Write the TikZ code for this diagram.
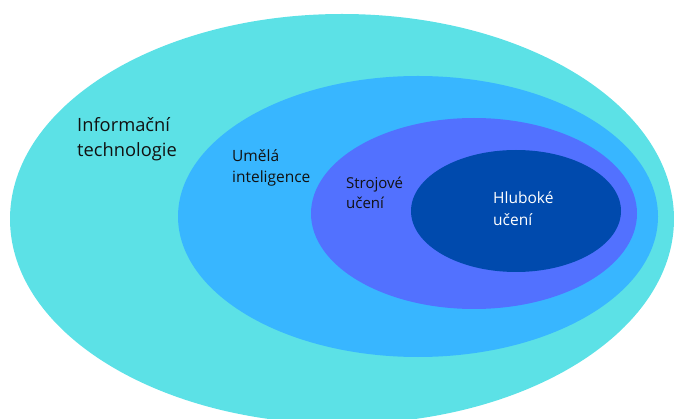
\documentclass[tikz,border=0pt]{standalone}
\usepackage{fontspec}
\setmainfont{Open Sans}
\usetikzlibrary{shapes.geometric}
\definecolor{itcyan}{HTML}{5CE1E6}
\definecolor{aiblue}{HTML}{38B6FF}
\definecolor{mlviolet}{HTML}{5271FF}
\definecolor{dlnavy}{HTML}{004AAD}
\definecolor{labelink}{HTML}{111111}
\begin{document}
\begin{tikzpicture}[x=1pt,y=-1pt,
  area/.style={ellipse,draw=none,inner sep=0pt},
  lbl/.style={anchor=west,align=left,inner sep=0pt,text=labelink}]
\useasboundingbox (0,0) rectangle (674,419);
\clip (0,0) rectangle (674,419);
% nested sets, outermost first
\node[area,fill=itcyan,minimum width=664pt,minimum height=410pt] (it) at (342,219) {};
\node[area,fill=aiblue,minimum width=480pt,minimum height=281pt] (ai) at (418,216.5) {};
\node[area,fill=mlviolet,minimum width=326pt,minimum height=191pt] (ml) at (474,213.5) {};
\node[area,fill=dlnavy,minimum width=210pt,minimum height=122pt] (dl) at (516,211) {};
% labels
\node[lbl,font=\fontsize{18.3}{25}\selectfont] (itlabel) at (77,139) {Informační\\technologie};
\node[lbl,font=\fontsize{15.5}{21}\selectfont] (ailabel) at (232,168) {Umělá\\inteligence};
\node[lbl,font=\fontsize{15}{20}\selectfont] (mllabel) at (346,193) {Strojové\\učení};
\node[lbl,text=white,font=\fontsize{15.5}{22}\selectfont] (dllabel) at (493,209) {Hluboké\\učení};
\end{tikzpicture}
\end{document}
